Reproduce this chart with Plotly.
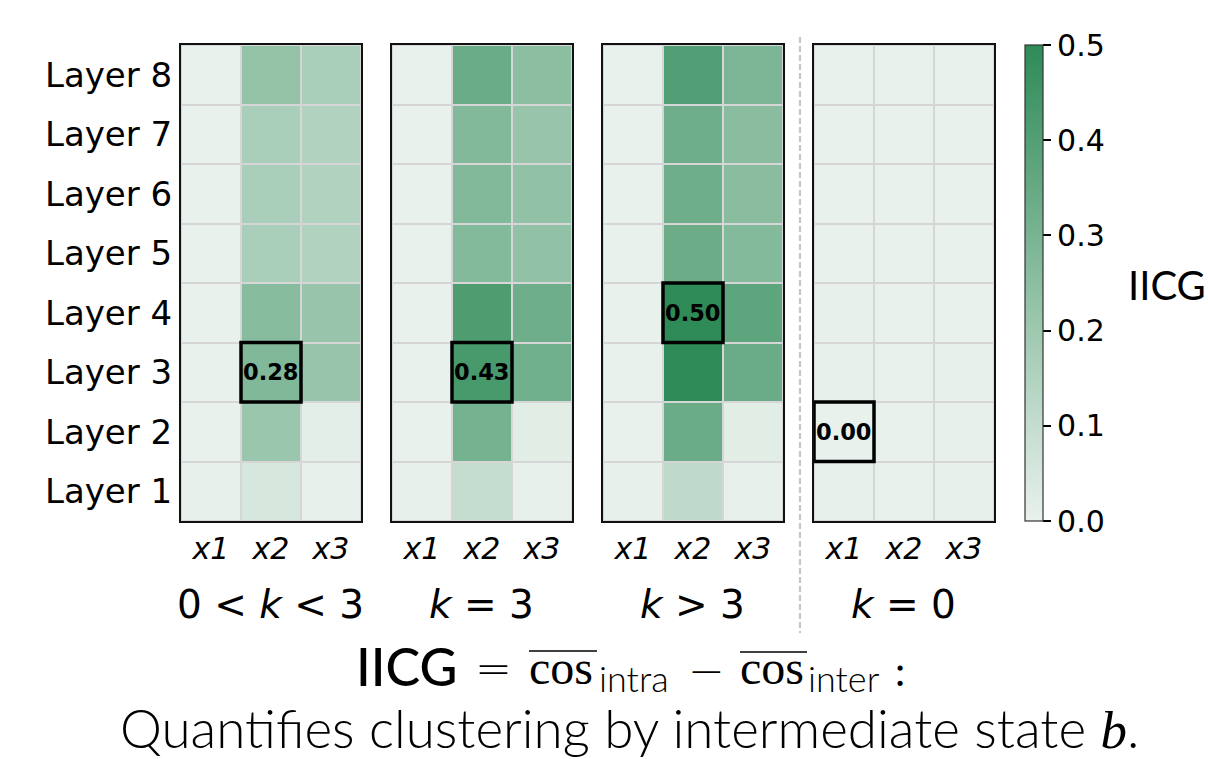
import plotly.graph_objects as go

# ---------------- data ----------------
layers = ["Layer 1", "Layer 2", "Layer 3", "Layer 4", "Layer 5", "Layer 6", "Layer 7", "Layer 8"]
positions = ["x1", "x2", "x3"]
panel_titles = ["0 &lt; <i>k</i> &lt; 3", "<i>k</i> = 3", "<i>k</i> &gt; 3", "<i>k</i> = 0"]

# values per layer (Layer 1 .. Layer 8), columns x1, x2, x3
k_lt3 = [
    [0.005, 0.05, 0.005],
    [0.000, 0.21, 0.015],
    [0.000, 0.28, 0.220],
    [0.000, 0.26, 0.220],
    [0.000, 0.17, 0.150],
    [0.000, 0.17, 0.150],
    [0.000, 0.17, 0.150],
    [0.000, 0.23, 0.170],
]
k_eq3 = [
    [0.005, 0.10, 0.005],
    [0.000, 0.31, 0.020],
    [0.000, 0.43, 0.320],
    [0.000, 0.415, 0.330],
    [0.000, 0.27, 0.235],
    [0.000, 0.275, 0.235],
    [0.000, 0.275, 0.220],
    [0.000, 0.34, 0.250],
]
k_gt3 = [
    [0.005, 0.115, 0.005],
    [0.000, 0.34, 0.020],
    [0.000, 0.52, 0.340],
    [0.000, 0.50, 0.375],
    [0.000, 0.335, 0.270],
    [0.000, 0.33, 0.255],
    [0.000, 0.33, 0.255],
    [0.000, 0.40, 0.290],
]
k_eq0 = [
    [0.004, 0.002, 0.004],
    [0.000, 0.002, 0.003],
    [0.003, 0.002, 0.003],
    [0.004, 0.002, 0.002],
    [0.002, 0.001, 0.002],
    [0.002, 0.001, 0.002],
    [0.002, 0.001, 0.002],
    [0.002, 0.001, 0.002],
]
panels = [k_lt3, k_eq3, k_gt3, k_eq0]
# highlighted cell per panel: (column index, layer index)
highlights = [(1, 2), (1, 2), (1, 3), (0, 1)]

cbar_ticks = [0.0, 0.1, 0.2, 0.3, 0.4, 0.5]

# ---------------- layout helpers ----------------
W, H = 1208, 759
def px(x):
    return x / W
def py(y):
    return 1 - y / H

panel_left = [181, 392, 603, 814]
panel_w = 180
top_px, bot_px = 45, 521

colorscale = [[0, "rgb(233,241,236)"], [1, "rgb(46,139,87)"]]
SERIF = "Liberation Serif, Times New Roman, Times, serif"

fig = go.Figure()
layout = dict(
    width=W, height=H,
    margin=dict(l=0, r=0, t=0, b=0),
    paper_bgcolor="white",
    plot_bgcolor="#d6d6d6",
    showlegend=False,
)
shapes = []
annotations = []

for i, z in enumerate(panels):
    n = "" if i == 0 else str(i + 1)
    fig.add_trace(go.Heatmap(
        z=z, x=positions, y=layers,
        colorscale=colorscale, zmin=0, zmax=0.5,
        xgap=2, ygap=2,
        xaxis="x" + n, yaxis="y" + n,
        showscale=(i == 0),
        colorbar=dict(
            x=px(1025), xanchor="left", xpad=0,
            y=py(bot_px), yanchor="bottom", ypad=0,
            len=(bot_px - top_px) / H, lenmode="fraction",
            thickness=18, thicknessmode="pixels",
            outlinewidth=1.2, outlinecolor="#333333",
            tickvals=cbar_ticks, ticktext=[f"{v:.1f}" for v in cbar_ticks],
            ticks="outside", ticklen=8, tickwidth=1.5, tickcolor="black",
            tickfont=dict(family="DejaVu Sans", size=30, color="black"),
        ),
        hoverinfo="skip",
    ))
    l = panel_left[i]
    layout["xaxis" + n] = dict(
        domain=[px(l), px(l + panel_w)], anchor="y" + n,
        type="category", showgrid=False, zeroline=False,
        ticks="", showline=True, linecolor="#111111", linewidth=2, mirror=True,
        tickvals=positions, ticktext=[f"<i>{p}</i>" for p in positions],
        tickfont=dict(family="DejaVu Sans", size=30, color="black"),
        range=[-0.5, 2.5], fixedrange=True,
    )
    layout["yaxis" + n] = dict(
        domain=[py(bot_px), py(top_px)], anchor="x" + n,
        type="category", showgrid=False, zeroline=False,
        ticks="", ticklen=0, showline=True, linecolor="#111111", linewidth=2, mirror=True,
        showticklabels=(i == 0), ticklabelstandoff=0,
        tickfont=dict(family="DejaVu Sans", size=34, color="black"),
        range=[-0.5, 7.5], fixedrange=True,
    )
    # highlighted cell box + value label
    cx, cy = highlights[i]
    shapes.append(dict(type="rect", xref="x" + n, yref="y" + n,
                       x0=cx - 0.5, x1=cx + 0.5, y0=cy - 0.5, y1=cy + 0.5,
                       line=dict(color="black", width=3.5), fillcolor="rgba(0,0,0,0)"))
    annotations.append(dict(xref="x" + n, yref="y" + n, x=positions[cx], y=layers[cy],
                            text=f"<b>{z[cy][cx]:.2f}</b>", showarrow=False,
                            font=dict(family="DejaVu Sans", size=22.5, color="black")))
    # panel title
    annotations.append(dict(xref="paper", yref="paper", x=px(l + panel_w / 2 - 1), y=py(604),
                            xanchor="center", yanchor="middle", showarrow=False,
                            text=panel_titles[i],
                            font=dict(family="DejaVu Sans", size=39, color="black")))

# dashed separator
shapes.append(dict(type="line", xref="paper", yref="paper",
                   x0=px(800), x1=px(800), y0=py(37), y1=py(633),
                   line=dict(color="#c6c6c6", width=2.2, dash="6px,3px")))

# colorbar title
annotations.append(dict(xref="paper", yref="paper", x=px(1126), y=py(285),
                        xanchor="left", yanchor="middle", showarrow=False,
                        text="IICG", font=dict(family="Lato", size=40, color="black")))

# formula line
def ann(text, x, y, size, family, xanchor="left", weight=None):
    f = dict(family=family, size=size, color="black")
    if weight:
        f["weight"] = weight
    annotations.append(dict(xref="paper", yref="paper", x=px(x), y=py(y),
                            xanchor=xanchor, yanchor="middle", showarrow=False,
                            text=text, font=f))

ann("IICG", 354, 666, 52, "Lato", weight=500)
ann("=", 493, 668, 44, "DejaVu Sans", xanchor="center", weight=200)
ann("cos", 527, 667, 48, SERIF, weight=400)
ann("intra", 597, 678, 36, "Lato", weight=300)
ann("\u2212", 706, 670, 44, "DejaVu Sans", xanchor="center", weight=200)
ann("cos", 738, 667, 48, SERIF, weight=400)
ann("inter", 806, 678, 36, "Lato", weight=300)
ann(":", 900, 671, 44, SERIF, xanchor="center", weight=400)
shapes.append(dict(type="line", xref="paper", yref="paper",
                   x0=px(529), x1=px(597), y0=py(651), y1=py(651),
                   line=dict(color="black", width=1.5)))
shapes.append(dict(type="line", xref="paper", yref="paper",
                   x0=px(740), x1=px(807), y0=py(652), y1=py(652),
                   line=dict(color="black", width=1.5)))

ann('Quantifies clustering by intermediate state <span style="font-family:Liberation Serif;font-weight:400"><i>b</i></span>.',
    629, 727, 53, "Lato", xanchor="center", weight=300)

layout["shapes"] = shapes
layout["annotations"] = annotations
fig.update_layout(**layout)

fig.write_html("out.html", config={"displayModeBar": False},
               post_script="document.body.style.margin='0';")
